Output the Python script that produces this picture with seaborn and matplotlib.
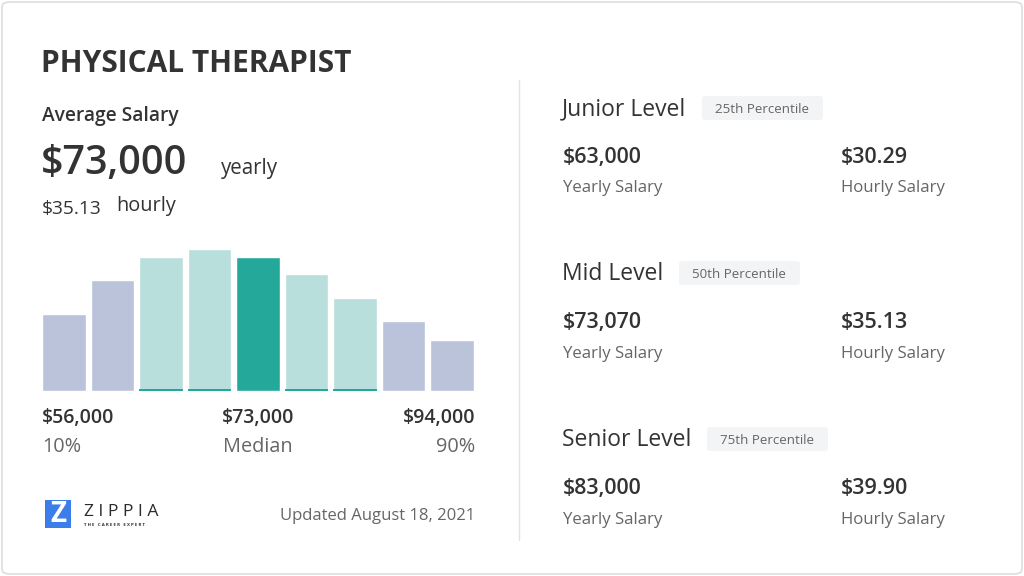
import matplotlib
matplotlib.use("Agg")
import matplotlib.pyplot as plt
from matplotlib.patches import FancyBboxPatch, Rectangle
from matplotlib.lines import Line2D
import seaborn as sns
import pandas as pd

# ---- data ----
bins = ["b1", "b2", "b3", "b4", "b5", "b6", "b7", "b8", "b9"]
bar_heights = [77, 111, 134, 142, 134, 117, 93, 70, 51]
bar_kind = ["outer", "outer", "inner", "inner", "median", "inner", "inner", "outer", "outer"]

title = "PHYSICAL THERAPIST"
avg_yearly = "$73,000"
avg_hourly = "$35.13"
range_values = ["$56,000", "$73,000", "$94,000"]
range_labels = ["10%", "Median", "90%"]
updated = "Updated August 18, 2021"

levels = ["Junior Level", "Mid Level", "Senior Level"]
percentiles = ["25th Percentile", "50th Percentile", "75th Percentile"]
yearly = ["$63,000", "$73,070", "$83,000"]
hourly = ["$30.29", "$35.13", "$39.90"]

kind_colors = {"outer": "#bac3da", "inner": "#b9dfdc", "median": "#24a899"}
DARK = "#333333"
GREY = "#666666"
W, H = 1024, 576

sns.set_theme(style="white")
plt.rcParams["font.family"] = ["Open Sans", "DejaVu Sans"]

fig = plt.figure(figsize=(W / 100, H / 100), dpi=100)
fig.patch.set_facecolor("white")


def px(x, y):
    return x / W, 1 - y / H


def txt(x, y, s, size, color=DARK, weight="normal", ha="left", va="center"):
    # small downward nudge so the visual centre matches the reference
    fig.text(*px(x, y + 2.5), s, fontsize=size, color=color, fontweight=weight, ha=ha, va=va)


# card border
fig.patches.append(FancyBboxPatch((2 / W, 2 / H), 1 - 4 / W, 1 - 4 / H,
                                  boxstyle="round,pad=0,rounding_size=0.008",
                                  transform=fig.transFigure, facecolor="none",
                                  edgecolor="#dddddd", linewidth=1.2, zorder=-1))
# divider
fig.lines.append(Line2D([519 / W, 519 / W], [1 - 80 / H, 1 - 540 / H],
                        transform=fig.transFigure, color="#e4e4e4", linewidth=1))

# ---- histogram ----
df = pd.DataFrame({"bin": bins, "height": bar_heights, "kind": bar_kind})
ax = fig.add_axes([42 / W, 1 - 391 / H, 432 / W, 160 / H])
sns.barplot(data=df, x="bin", y="height", hue="bin",
            palette=[kind_colors[k] for k in bar_kind],
            width=0.9, legend=False, ax=ax, saturation=1)
ax.set_xlim(-0.45, len(bins) - 0.55)
ax.set_ylim(0, 160)
ax.axis("off")
for patch, kind in zip(list(ax.patches), bar_kind):
    if kind == "inner":
        ax.add_patch(Rectangle((patch.get_x(), 0), patch.get_width(), 2.2,
                               color=kind_colors["median"], linewidth=0))

# ---- left texts ----
txt(41, 61, title, 21.5, weight="bold")
txt(42, 113, "Average Salary", 13.8, weight="semibold")
txt(41, 161, avg_yearly, 28.5, weight="semibold")
txt(221, 166, "yearly", 14.8)
txt(42, 206, avg_hourly, 13.8)
txt(116, 204, "hourly", 14.3)

for val, lab, x, ha in zip(range_values, range_labels, [42, 258, 475], ["left", "center", "right"]):
    txt(x, 415, val, 14, weight="semibold", ha=ha)
    txt(x, 444, lab, 14.3, color=GREY, ha=ha)

# logo
fig.patches.append(Rectangle(px(45, 528), 26 / W, 28 / H, transform=fig.transFigure,
                             facecolor="#3d7de9", edgecolor="none"))
txt(58, 512, "Z", 20, color="white", weight="bold", ha="center")
txt(84, 510, "Z I P P I A", 12.6, color="#2b2b2b")
txt(84, 522, "T H E   C A R E E R   E X P E R T", 3.2, color="#2b2b2b", weight="bold")
txt(475, 514, updated, 12, color=GREY, ha="right")

# ---- right panel ----
block_y = [107, 272, 438]
pill_x = [702, 679, 707]
for lvl, pct, yv, hv, y0, pxl in zip(levels, percentiles, yearly, hourly, block_y, pill_x):
    txt(562, y0, lvl, 16.5, color=DARK)
    fig.patches.append(FancyBboxPatch(px(pxl, y0 + 13), 121 / W, 24 / H,
                                      boxstyle="round,pad=0,rounding_size=0.004",
                                      transform=fig.transFigure, facecolor="#f3f4f6",
                                      edgecolor="none"))
    txt(pxl + 60, y0, pct, 9.6, color=GREY, ha="center")
    txt(563, y0 + 48, yv, 15.5, weight="semibold")
    txt(841, y0 + 48, hv, 15.5, weight="semibold")
    txt(563, y0 + 79, "Yearly Salary", 12.1, color=GREY)
    txt(841, y0 + 79, "Hourly Salary", 12.1, color=GREY)

fig.savefig("out.png", dpi=100, facecolor="white")
